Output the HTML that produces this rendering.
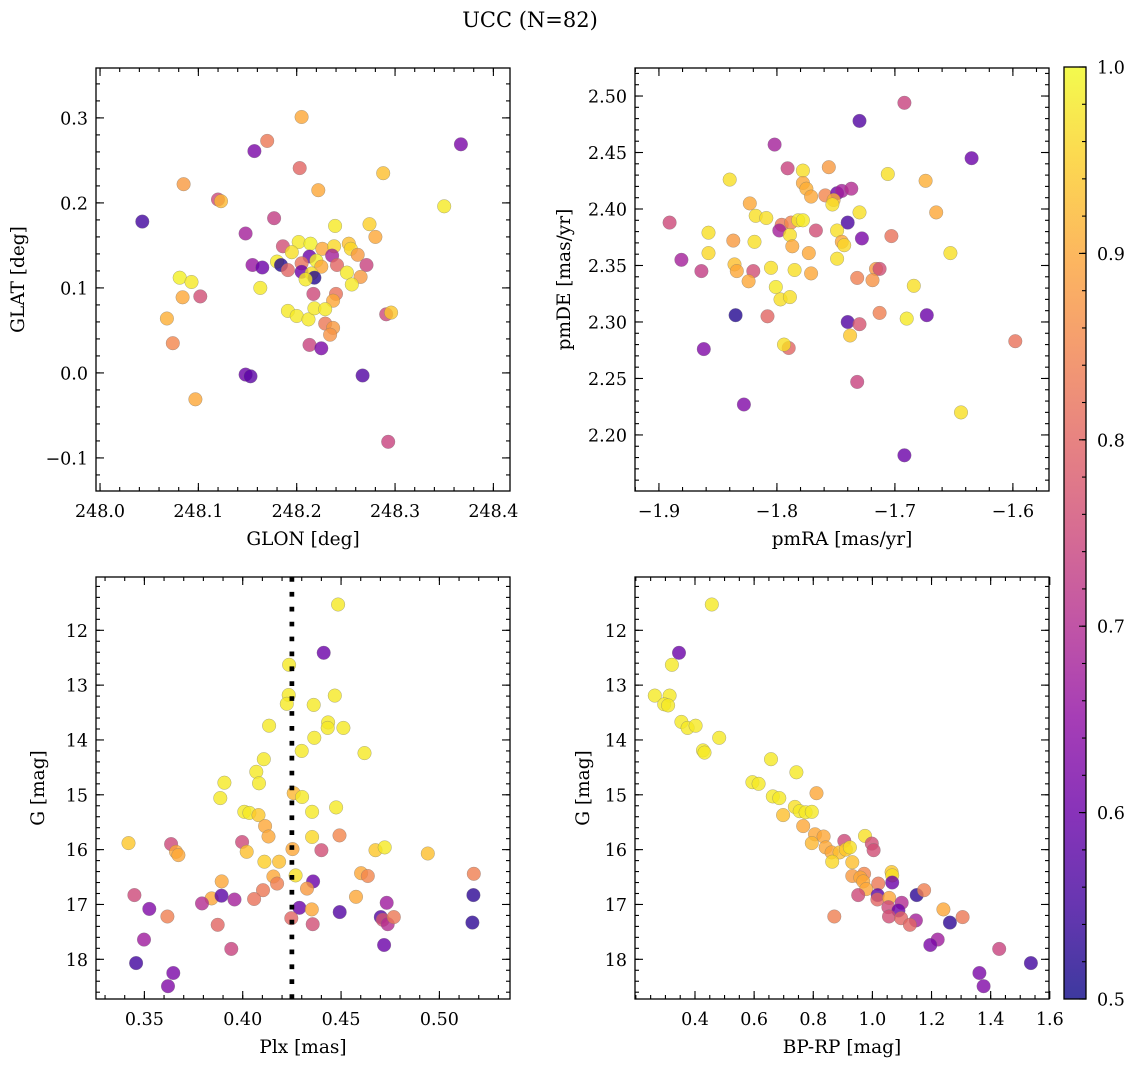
<!DOCTYPE html>
<html><head><meta charset="utf-8"><style>
html,body{margin:0;padding:0;background:#fff;}
svg{display:block;font-family:"DejaVu Serif","Liberation Serif",serif;}
</style></head><body>
<svg id="fig" width="1136" height="1067" viewBox="0 0 1136 1067" xmlns="http://www.w3.org/2000/svg">
<defs>
<linearGradient id="plasmaGrad" x1="0" y1="1" x2="0" y2="0">
<stop offset="0" stop-color="#0d0887"/><stop offset="0.1" stop-color="#41049d"/><stop offset="0.2" stop-color="#6a00a8"/><stop offset="0.3" stop-color="#8f0da4"/><stop offset="0.4" stop-color="#b12a90"/><stop offset="0.5" stop-color="#cc4778"/><stop offset="0.6" stop-color="#e16462"/><stop offset="0.7" stop-color="#f2844b"/><stop offset="0.8" stop-color="#fca636"/><stop offset="0.9" stop-color="#fcce25"/><stop offset="1" stop-color="#f0f921"/>
</linearGradient>
</defs>
<text x="530" y="27" font-size="21" text-anchor="middle">UCC (N=82)</text>
</svg>
<script>
// ---------- Data: panel 1 (GLON vs GLAT) ----------
var p1X = [248.205,248.170,248.157,248.367,248.203,248.085,248.288,248.222,248.120,248.123,248.350,248.043,248.177,248.148,248.239,248.274,248.280,248.186,248.202,248.214,248.195,248.226,248.238,248.253,248.255,248.262,248.213,248.236,248.271,248.155,248.165,248.180,248.184,248.191,248.205,248.220,248.225,248.241,248.205,248.215,248.218,248.209,248.251,248.265,248.256,248.081,248.093,248.163,248.084,248.102,248.217,248.240,248.237,248.191,248.200,248.212,248.218,248.229,248.291,248.296,248.068,248.229,248.237,248.234,248.074,248.213,248.225,248.148,248.153,248.267,248.097,248.293];
var p1Y = [0.301,0.273,0.261,0.269,0.241,0.222,0.235,0.215,0.204,0.202,0.196,0.178,0.182,0.164,0.173,0.175,0.160,0.149,0.154,0.152,0.142,0.146,0.149,0.152,0.146,0.139,0.137,0.138,0.127,0.127,0.124,0.131,0.127,0.121,0.129,0.132,0.125,0.127,0.119,0.117,0.112,0.110,0.118,0.113,0.104,0.112,0.107,0.100,0.089,0.090,0.093,0.093,0.085,0.073,0.067,0.063,0.076,0.075,0.069,0.071,0.064,0.058,0.053,0.045,0.035,0.033,0.029,-0.002,-0.004,-0.003,-0.031,-0.081];
var p1C = [0.9,0.83,0.62,0.62,0.8,0.88,0.93,0.9,0.75,0.92,0.98,0.55,0.73,0.68,0.98,0.95,0.9,0.76,0.98,0.99,0.97,0.9,0.96,0.93,0.96,0.88,0.6,0.68,0.74,0.66,0.6,0.98,0.52,0.8,0.82,0.99,0.9,0.8,0.6,0.97,0.52,0.98,0.98,0.88,0.98,0.99,0.98,0.98,0.9,0.76,0.75,0.82,0.9,0.98,0.98,0.98,0.98,0.98,0.75,0.94,0.91,0.83,0.88,0.87,0.85,0.74,0.62,0.6,0.58,0.57,0.9,0.74];
// ---------- Data: panel 2 (pmRA vs pmDE) ----------
var p2X = [-1.692,-1.730,-1.802,-1.635,-1.840,-1.791,-1.778,-1.756,-1.706,-1.674,-1.778,-1.775,-1.771,-1.759,-1.749,-1.745,-1.737,-1.752,-1.753,-1.823,-1.730,-1.665,-1.818,-1.809,-1.891,-1.740,-1.796,-1.788,-1.782,-1.778,-1.798,-1.789,-1.767,-1.749,-1.858,-1.728,-1.703,-1.837,-1.819,-1.787,-1.745,-1.743,-1.858,-1.773,-1.653,-1.881,-1.749,-1.836,-1.834,-1.864,-1.820,-1.805,-1.785,-1.771,-1.716,-1.713,-1.824,-1.732,-1.719,-1.801,-1.684,-1.797,-1.789,-1.835,-1.808,-1.713,-1.673,-1.740,-1.730,-1.690,-1.738,-1.598,-1.862,-1.790,-1.794,-1.732,-1.828,-1.644,-1.692];
var p2Y = [2.494,2.478,2.457,2.445,2.426,2.436,2.434,2.437,2.431,2.425,2.423,2.418,2.411,2.412,2.414,2.416,2.418,2.408,2.404,2.405,2.397,2.397,2.394,2.392,2.388,2.388,2.386,2.388,2.390,2.390,2.381,2.377,2.381,2.381,2.379,2.374,2.376,2.372,2.371,2.367,2.371,2.368,2.361,2.361,2.361,2.355,2.356,2.351,2.345,2.345,2.345,2.348,2.346,2.343,2.347,2.347,2.336,2.339,2.337,2.331,2.332,2.320,2.322,2.306,2.305,2.308,2.306,2.300,2.298,2.303,2.288,2.283,2.276,2.277,2.280,2.247,2.227,2.220,2.182];
var p2C = [0.74,0.57,0.68,0.6,0.97,0.74,0.97,0.88,0.97,0.91,0.9,0.91,0.9,0.85,0.6,0.68,0.7,0.91,0.97,0.9,0.97,0.9,0.97,0.97,0.75,0.56,0.83,0.85,0.98,0.98,0.68,0.97,0.76,0.97,0.97,0.62,0.82,0.88,0.97,0.9,0.9,0.96,0.96,0.9,0.97,0.68,0.97,0.93,0.9,0.73,0.76,0.97,0.97,0.9,0.88,0.76,0.9,0.84,0.87,0.98,0.97,0.97,0.97,0.52,0.8,0.84,0.6,0.57,0.77,0.98,0.94,0.82,0.63,0.8,0.97,0.74,0.63,0.97,0.6];
// ---------- Data: panel 3 (Plx vs G) ----------
var p3X = [0.4485,0.4412,0.4236,0.4234,0.4224,0.4361,0.4468,0.4134,0.4434,0.4432,0.4512,0.4364,0.4300,0.4619,0.4107,0.4069,0.4083,0.3907,0.3886,0.4259,0.4302,0.4008,0.4034,0.4080,0.4353,0.4475,0.4114,0.4131,0.4353,0.4492,0.3419,0.3636,0.3661,0.3673,0.3997,0.4020,0.4253,0.4400,0.4675,0.4722,0.4941,0.4110,0.4185,0.4269,0.4602,0.4636,0.5175,0.3893,0.4156,0.4175,0.4103,0.4358,0.4327,0.3449,0.3842,0.3892,0.3958,0.3793,0.4058,0.4576,0.4732,0.5173,0.3525,0.3617,0.4288,0.4351,0.4493,0.4247,0.4702,0.4712,0.4737,0.4768,0.3873,0.4356,0.5168,0.3498,0.3942,0.4719,0.3458,0.3647,0.3620];
var p3Y = [11.53,12.41,12.63,13.18,13.34,13.36,13.19,13.74,13.68,13.78,13.78,13.96,14.20,14.24,14.35,14.58,14.79,14.78,15.06,14.97,15.04,15.31,15.33,15.37,15.31,15.23,15.57,15.76,15.77,15.74,15.88,15.90,16.04,16.10,15.86,16.04,15.99,16.01,16.01,15.96,16.07,16.22,16.22,16.47,16.43,16.48,16.44,16.58,16.49,16.62,16.74,16.58,16.71,16.83,16.89,16.84,16.91,16.98,16.90,16.86,16.97,16.83,17.08,17.22,17.06,17.09,17.14,17.25,17.23,17.28,17.36,17.23,17.37,17.36,17.33,17.64,17.81,17.74,18.07,18.25,18.49];
var p3C = [0.98,0.6,0.98,0.98,0.98,0.98,0.98,0.98,0.98,0.98,0.98,0.98,0.98,0.98,0.98,0.98,0.98,0.98,0.98,0.92,0.98,0.98,0.98,0.94,0.98,0.98,0.9,0.9,0.96,0.85,0.94,0.75,0.9,0.9,0.75,0.93,0.9,0.76,0.94,0.98,0.93,0.95,0.93,0.97,0.9,0.85,0.84,0.9,0.9,0.84,0.83,0.6,0.88,0.75,0.9,0.58,0.68,0.7,0.82,0.9,0.67,0.53,0.63,0.84,0.6,0.9,0.57,0.8,0.57,0.77,0.7,0.83,0.8,0.76,0.53,0.67,0.74,0.6,0.55,0.62,0.63];
var plxMean = [0.425];
// ---------- Data: panel 4 (BP-RP vs G) ----------
var p4X = [0.457,0.346,0.322,0.264,0.314,0.296,0.309,0.354,0.375,0.402,0.482,0.427,0.432,0.657,0.743,0.594,0.615,0.811,0.663,0.685,0.738,0.754,0.774,0.795,0.698,0.766,0.806,0.835,0.795,0.905,0.975,0.998,1.004,0.842,0.862,0.889,0.910,0.924,0.864,0.932,0.932,0.972,0.959,0.969,0.979,1.065,1.067,1.067,1.020,0.952,1.018,1.017,1.057,1.099,1.054,1.088,1.056,1.097,1.150,1.175,1.147,1.127,0.871,1.240,1.262,1.305,1.221,1.196,1.429,1.536,1.362,1.376];
var p4Y = [11.53,12.41,12.63,13.19,13.19,13.35,13.37,13.67,13.78,13.74,13.96,14.19,14.23,14.35,14.59,14.77,14.80,14.97,15.03,15.06,15.22,15.30,15.32,15.31,15.37,15.57,15.72,15.76,15.88,15.84,15.75,15.89,16.01,15.96,16.05,16.05,16.00,15.96,16.22,16.23,16.48,16.44,16.51,16.58,16.72,16.41,16.47,16.60,16.62,16.83,16.83,16.91,16.88,16.97,17.05,17.11,17.22,17.25,16.83,16.74,17.29,17.37,17.22,17.09,17.33,17.23,17.64,17.74,17.81,18.07,18.25,18.49];
var p4C = [0.98,0.6,0.98,0.98,0.98,0.98,0.98,0.98,0.98,0.98,0.98,0.98,0.98,0.98,0.98,0.98,0.98,0.9,0.98,0.98,0.97,0.98,0.98,0.98,0.93,0.9,0.9,0.9,0.92,0.75,0.97,0.76,0.76,0.9,0.9,0.93,0.94,0.97,0.96,0.93,0.88,0.85,0.9,0.9,0.9,0.94,0.97,0.6,0.83,0.75,0.58,0.8,0.9,0.7,0.75,0.6,0.76,0.8,0.53,0.84,0.68,0.8,0.84,0.9,0.53,0.83,0.67,0.62,0.74,0.55,0.62,0.63];
// ---------- Tick labels ----------
var p1XTicks = [248.0,248.1,248.2,248.3,248.4];
var p1YTicks = [-0.1,0.0,0.1,0.2,0.3];
var p2XTicks = [-1.9,-1.8,-1.7,-1.6];
var p2YTicks = [2.20,2.25,2.30,2.35,2.40,2.45,2.50];
var p3XTicks = [0.35,0.40,0.45,0.50];
var gTicks = [12,13,14,15,16,17,18];
var p4XTicks = [0.4,0.6,0.8,1.0,1.2,1.4,1.6];
var cbTicks = [0.5,0.6,0.7,0.8,0.9,1.0];

var NS = "http://www.w3.org/2000/svg";
var svg = document.getElementById('fig');
var TFS = 17.5, LFS = 18.5;
function mk(tag, attrs, parent){
  var e = document.createElementNS(NS, tag);
  for (var k in attrs) e.setAttribute(k, attrs[k]);
  (parent||svg).appendChild(e);
  return e;
}
var stops = [[13,8,135],[65,4,157],[106,0,168],[143,13,164],[177,42,144],[204,71,120],[225,100,98],[242,132,75],[252,166,54],[252,206,37],[240,249,33]];
function plasma(v){
  var t = (v-0.5)/0.5; t = Math.max(0,Math.min(1,t));
  var f = t*10, i = Math.min(9, Math.floor(f)), r = f-i;
  var a = stops[i], b = stops[i+1];
  return 'rgb('+Math.round(a[0]+(b[0]-a[0])*r)+','+Math.round(a[1]+(b[1]-a[1])*r)+','+Math.round(a[2]+(b[2]-a[2])*r)+')';
}
function fmt(v, d){ var s = v.toFixed(d); return s.charAt(0)==='-' ? '\u2212'+s.slice(1) : s; }

function panel(o){
  var g = mk('g', {});
  
  
  var L=o.L, R=o.R, T=o.T, B=o.B;
  function sx(v){ return L + (v-o.x0)/(o.x1-o.x0)*(R-L); }
  function sy(v){ return o.yInv ? T + (v-o.y0)/(o.y1-o.y0)*(B-T) : B - (v-o.y0)/(o.y1-o.y0)*(B-T); }
  var pts = mk('g', {}, g);
  
  
  for (var i=0;i<o.xs.length;i++){
    var c = mk('circle', {cx:sx(o.xs[i]).toFixed(1), cy:sy(o.ys[i]).toFixed(1), r:6.8, fill:plasma(o.cs[i]), 'fill-opacity':0.8, stroke:'#777', 'stroke-opacity':0.6, 'stroke-width':0.5}, pts);
    
    
  }
  if (o.vline){
    var vl = mk('line', {x1:sx(o.vline[0]), x2:sx(o.vline[0]), y1:T, y2:B, stroke:'#000', 'stroke-width':4.7, 'stroke-dasharray':'4.7 10.2'}, g);
    
    
  }
  var ax = mk('g', {stroke:'#000', 'stroke-width':1.1}, g);
  
  
  var s, p;
  s = Math.ceil((o.x0)/o.xMinor - 1e-6);
  for (; s*o.xMinor <= o.x1+1e-9; s++){ p = sx(s*o.xMinor); mk('line',{x1:p,x2:p,y1:B,y2:B-4},ax); mk('line',{x1:p,x2:p,y1:T,y2:T+4},ax); }
  s = Math.ceil((Math.min(o.y0,o.y1))/o.yMinor - 1e-6);
  for (; s*o.yMinor <= Math.max(o.y0,o.y1)+1e-9; s++){ p = sy(s*o.yMinor); mk('line',{x1:L,x2:L+4,y1:p,y2:p},ax); mk('line',{x1:R,x2:R-4,y1:p,y2:p},ax); }
  for (var j=0;j<o.xt.length;j++){
    p = sx(o.xt[j]);
    mk('line',{x1:p,x2:p,y1:B,y2:B-8},ax); mk('line',{x1:p,x2:p,y1:T,y2:T+8},ax);
    var t = mk('text',{x:p, y:B+26, 'font-size':TFS, 'text-anchor':'middle'}, g);
    t.textContent = fmt(o.xt[j], o.xd);
    
    
  }
  for (var j=0;j<o.yt.length;j++){
    p = sy(o.yt[j]);
    mk('line',{x1:L,x2:L+8,y1:p,y2:p},ax); mk('line',{x1:R,x2:R-8,y1:p,y2:p},ax);
    var t = mk('text',{x:L-8, y:p+6.5, 'font-size':TFS, 'text-anchor':'end'}, g);
    t.textContent = fmt(o.yt[j], o.yd);
    
    
  }
  var box = mk('rect',{x:L,y:T,width:R-L,height:B-T,fill:'none',stroke:'#000','stroke-width':1.3}, g);
  
  
  var xl = mk('text',{x:(L+R)/2, y:B+54, 'font-size':LFS, 'text-anchor':'middle'}, g);
  xl.textContent = o.xlabel;
  
  
  var yl = mk('text',{x:0, y:0, 'font-size':LFS, 'text-anchor':'middle', transform:'translate('+o.ylx+','+(T+B)/2+') rotate(-90)'}, g);
  yl.textContent = o.ylabel;
  
  
}

panel({name:'glon-glat-panel', L:96,R:510,T:68,B:491, x0:247.9959,x1:248.4169, y0:-0.1389,y1:0.3587, xs:p1X,ys:p1Y,cs:p1C, xt:p1XTicks,xd:1, yt:p1YTicks,yd:1, xMinor:0.02,yMinor:0.02, xlabel:'GLON [deg]', ylabel:'GLAT [deg]', ylx:24});
panel({name:'pmra-pmde-panel', L:635,R:1049,T:68,B:491, x0:-1.9203,x1:-1.5694, y0:2.1504,y1:2.5248, xs:p2X,ys:p2Y,cs:p2C, xt:p2XTicks,xd:1, yt:p2YTicks,yd:2, xMinor:0.02,yMinor:0.01, xlabel:'pmRA [mas/yr]', ylabel:'pmDE [mas/yr]', ylx:570});
panel({name:'plx-g-panel', L:96,R:510,T:577,B:999, x0:0.3254,x1:0.5359, y0:11.028,y1:18.724, yInv:true, xs:p3X,ys:p3Y,cs:p3C, xt:p3XTicks,xd:2, yt:gTicks,yd:0, xMinor:0.01,yMinor:0.2, xlabel:'Plx [mas]', ylabel:'G [mag]', ylx:44, vline:plxMean});
panel({name:'color-magnitude-panel', L:635,R:1049,T:577,B:999, x0:0.1971,x1:1.5973, y0:11.028,y1:18.724, yInv:true, xs:p4X,ys:p4Y,cs:p4C, xt:p4XTicks,xd:1, yt:gTicks,yd:0, xMinor:0.05,yMinor:0.2, xlabel:'BP-RP [mag]', ylabel:'G [mag]', ylx:589});

(function(){
  var L=1064,R=1086,T=67,B=999;
  var g = mk('g',{});
  
  
  function cy(v){ return B - (v-0.5)/0.5*(B-T); }
  mk('rect',{x:L,y:T,width:R-L,height:B-T,fill:'url(#plasmaGrad)','fill-opacity':0.8},g);
  for (var k=0;k<=25;k++){ var p = cy(0.5+k*0.02); mk('line',{x1:R,x2:R-4,y1:p,y2:p,stroke:'#000','stroke-width':1.1},g); }
  for (var j=0;j<cbTicks.length;j++){
    var p = cy(cbTicks[j]);
    mk('line',{x1:R,x2:R-7,y1:p,y2:p,stroke:'#000','stroke-width':1.1},g);
    var t = mk('text',{x:1097,y:p+6.5,'font-size':TFS},g);
    t.textContent = cbTicks[j].toFixed(1);
    
    
  }
  mk('rect',{x:L,y:T,width:R-L,height:B-T,fill:'none',stroke:'#000','stroke-width':1.3},g);
})();
</script>
</body></html>
